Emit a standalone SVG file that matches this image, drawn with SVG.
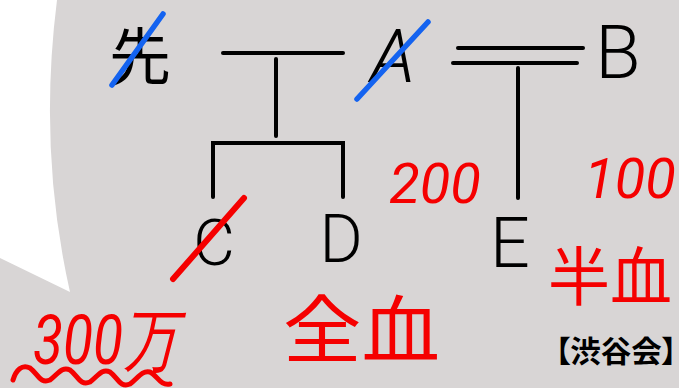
<svg xmlns="http://www.w3.org/2000/svg" width="679" height="388" viewBox="0 0 679 388">
  <style>
    .line { fill: none; stroke: #000; stroke-width: 4; stroke-linecap: round; stroke-linejoin: miter; }
    .strike-blue { stroke: #1463f0; stroke-width: 5.5; stroke-linecap: round; }
    .strike-red { stroke: #f50000; stroke-width: 6; stroke-linecap: round; }
    .name { font-family: Roboto, "Liberation Sans", sans-serif; font-weight: 300; fill: #000; text-anchor: middle; }
    .kanji { font-family: "Noto Sans CJK JP", sans-serif; fill: #000; text-anchor: middle; }
    .note { font-family: Roboto, "Liberation Sans", sans-serif; font-style: italic; fill: #f50000; }
    .mid { text-anchor: middle; }
    .note-jp { font-family: "Noto Sans CJK JP", sans-serif; fill: #f50000; }
  </style>

  <!-- board background with the white margin on the left -->
  <rect width="679" height="388" fill="#d8d5d5"/>
  <path d="M0,0 H57 Q38,150 70,292 L0,258 Z" fill="#ffffff"/>

  <!-- family-tree connectors -->
  <g id="connectors">
    <line class="line" x1="223" y1="53" x2="343" y2="53"/>
    <line class="line" x1="276" y1="59" x2="276" y2="136"/>
    <path class="line" d="M213,197 V143 H343 V197"/>
    <line class="line" x1="458" y1="48" x2="583" y2="48"/>
    <line class="line" x1="453" y1="63" x2="577" y2="63"/>
    <line class="line" x1="518" y1="68" x2="518" y2="198"/>
  </g>

  <!-- people -->
  <g id="node-sen">
    <text class="kanji" x="140" y="80" font-size="62">先</text>
    <line class="strike-blue" x1="112" y1="85" x2="163" y2="14"/>
  </g>
  <g id="node-a">
    <text class="name" x="393" y="82" font-size="74" font-style="italic">A</text>
    <line class="strike-blue" x1="357" y1="99" x2="428" y2="22"/>
  </g>
  <g id="node-b">
    <text class="name" x="618" y="78" font-size="74">B</text>
  </g>
  <g id="node-c">
    <text class="name" x="214" y="265" font-size="64">C</text>
    <line class="strike-red" x1="173" y1="279" x2="244" y2="198"/>
  </g>
  <g id="node-d">
    <text class="name" x="341" y="262" font-size="66">D</text>
  </g>
  <g id="node-e">
    <text class="name" x="510" y="267" font-size="70">E</text>
  </g>

  <!-- red annotations -->
  <g id="notes">
    <text class="note mid" x="435" y="203" font-size="56">200</text>
    <text class="note mid" x="630" y="198" font-size="56">100</text>
    <text class="note" x="33" y="364" font-size="68" textLength="145" lengthAdjust="spacingAndGlyphs">300万</text>
    <path d="M13,380 C16,370 22,364 30,368 C38,374 40,384 50,380 C58,374 62,366 70,370 C78,376 80,386 90,382 C98,376 102,368 110,372 C118,378 120,388 130,384 C138,378 142,370 150,372 C158,376 160,386 170,384" fill="none" stroke="#f50000" stroke-width="5" stroke-linecap="round"/>
    <text class="note-jp" x="283" y="357" font-size="74" textLength="157" lengthAdjust="spacingAndGlyphs">全血</text>
    <text class="note-jp" x="548" y="300" font-size="64" textLength="124" lengthAdjust="spacingAndGlyphs">半血</text>
  </g>

  <!-- credit -->
  <text x="555" y="362" font-family="'Noto Sans CJK JP', sans-serif" font-weight="bold" font-size="30" fill="#000" style="font-feature-settings: 'palt'" textLength="122" lengthAdjust="spacingAndGlyphs">【渋谷会】</text>
</svg>
